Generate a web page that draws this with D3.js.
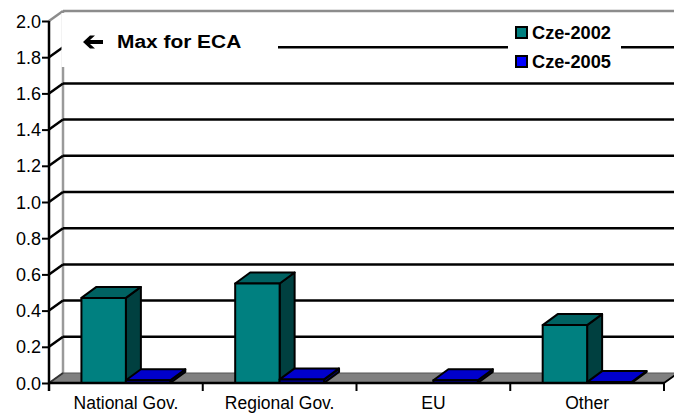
<!DOCTYPE html>
<html><head><meta charset="utf-8">
<script src="https://cdn.jsdelivr.net/npm/d3@7"></script>
<style>html,body{margin:0;padding:0;background:#fff;overflow:hidden}</style>
</head><body>
<svg id="c" width="674" height="413"></svg>
<script>
const categories = ["National Gov.", "Regional Gov.", "EU", "Other"];
const seriesNames = ["Cze-2002", "Cze-2005"];
const cze2002 = [0.47, 0.55, 0, 0.32];
const cze2005 = [0.015, 0.02, 0.015, 0.005];
const yTicks = [0, 0.2, 0.4, 0.6, 0.8, 1.0, 1.2, 1.4, 1.6, 1.8, 2.0];
const annotation = "Max for ECA";

const svg = d3.select("#c");
const font = "'Liberation Sans', Arial, sans-serif";
const L = 49, R = 664, B = 383, T = 21;
const wdx = 14, wdy = -10;   // wall depth
const bdx = 15, bdy = -11;   // bar depth
const y = d3.scaleLinear().domain([0, 2]).range([B, T]);
const x0 = d3.scaleBand().domain(categories).range([L, R]).paddingInner(0).paddingOuter(0);
const x1 = d3.scaleBand().domain(seriesNames).range([0, x0.bandwidth()]).paddingInner(0).paddingOuter(0.73);
const faces = {
  "Cze-2002": {front: "#008080", top: "#006262", side: "#004040", legend: "#008080"},
  "Cze-2005": {front: "#0000a0", top: "#0000cc", side: "#000070", legend: "#0000ff"}
};

// back wall vertical edge
svg.append("line").attr("x1", L + wdx).attr("x2", L + wdx).attr("y1", y(2) + wdy).attr("y2", B + wdy)
  .attr("stroke", "#9a9a9a").attr("stroke-width", 2.5);

// gridlines on back wall
yTicks.filter(v => v > 0).forEach(v => {
  const top = v === 2;
  svg.append("line").attr("x1", L + wdx).attr("x2", 680).attr("y1", y(v) + wdy).attr("y2", y(v) + wdy)
    .attr("stroke", top ? "#8c8c8c" : "#000").attr("stroke-width", 2.5);
  svg.append("line").attr("x1", L).attr("x2", L + wdx).attr("y1", y(v)).attr("y2", y(v) + wdy)
    .attr("stroke", top ? "#8c8c8c" : "#000").attr("stroke-width", 2.5);
});

// floor
svg.append("path")
  .attr("d", `M${L},${B} L${R},${B} L${R + wdx},${B + wdy} L${L + wdx},${B + wdy} Z`)
  .attr("fill", "#808080").attr("stroke", "#555").attr("stroke-width", 1);
svg.append("line").attr("x1", L).attr("x2", L + wdx).attr("y1", B).attr("y2", B + wdy)
  .attr("stroke", "#333").attr("stroke-width", 2);
svg.append("line").attr("x1", R).attr("x2", R + wdx).attr("y1", B).attr("y2", B + wdy)
  .attr("stroke", "#000").attr("stroke-width", 2);

// annotation box
svg.append("rect").attr("x", L + wdx - 1.5).attr("y", 13).attr("width", 278 - (L + wdx - 1.5)).attr("height", 54).attr("fill", "#fff");
svg.append("path").attr("d", "M83,42 L90,35.5 L95,35.5 L90,40 L103,40 L103,44 L90,44 L95,48.5 L90,48.5 Z")
  .attr("fill", "#000");
svg.append("text").attr("transform", "translate(117,48) scale(1.1,1)").attr("font-family", font)
  .attr("font-weight", "bold").attr("font-size", 19).attr("fill", "#000").text(annotation);

// legend
const lg = svg.append("g");
lg.append("rect").attr("x", 508).attr("y", 18).attr("width", 113).attr("height", 58).attr("fill", "#fff");
seriesNames.forEach((s, i) => {
  lg.append("rect").attr("x", 516).attr("y", 27 + i * 29).attr("width", 11).attr("height", 11)
    .attr("fill", faces[s].legend).attr("stroke", "#000").attr("stroke-width", 2);
  lg.append("text").attr("transform", `translate(532,${39 + i * 29}) scale(1.04,1)`).attr("font-family", font)
    .attr("font-weight", "bold").attr("font-size", 17.5).attr("fill", "#000").text(s);
});

// bars
const data = [cze2002, cze2005];
categories.forEach((c, ci) => {
  seriesNames.forEach((s, si) => {
    const v = data[si][ci];
    if (!v) return;
    const xl = x0(c) + x1(s), w = x1.bandwidth();
    const yt = y(v);
    const g = svg.append("g").attr("stroke", "#000").attr("stroke-width", 2).attr("stroke-linejoin", "round");
    g.append("path").attr("d", `M${xl + w},${B} L${xl + w + bdx},${B + bdy} L${xl + w + bdx},${yt + bdy} L${xl + w},${yt} Z`)
      .attr("fill", faces[s].side);
    g.append("path").attr("d", `M${xl},${yt} L${xl + bdx},${yt + bdy} L${xl + w + bdx},${yt + bdy} L${xl + w},${yt} Z`)
      .attr("fill", faces[s].top);
    g.append("rect").attr("x", xl).attr("y", yt).attr("width", w).attr("height", B - yt).attr("fill", faces[s].front);
  });
});

// y axis
const ya = svg.append("g").attr("transform", `translate(${L},0)`)
  .call(d3.axisLeft(y).tickValues(yTicks).tickSize(7).tickPadding(1).tickFormat(d3.format(".1f")));
ya.select(".domain").remove();
ya.selectAll(".tick line").attr("stroke", "#000").attr("stroke-width", 2);
ya.selectAll(".tick text").attr("font-family", font).attr("font-size", 18).attr("fill", "#000").attr("dy", "0.34em");
svg.append("line").attr("x1", L).attr("x2", L).attr("y1", y(2)).attr("y2", B + 8).attr("stroke", "#000").attr("stroke-width", 2.5);

// x axis
svg.append("line").attr("x1", L).attr("x2", R).attr("y1", B).attr("y2", B).attr("stroke", "#000").attr("stroke-width", 2.5);
const bounds = categories.map(c => x0(c)).concat([x0.range()[1]]);
bounds.forEach(bx => svg.append("line").attr("x1", bx).attr("x2", bx).attr("y1", B).attr("y2", B + 8)
  .attr("stroke", "#000").attr("stroke-width", 2));
const xa = svg.append("g").attr("transform", `translate(0,${B})`)
  .call(d3.axisBottom(x0).tickSize(0).tickPadding(0));
xa.select(".domain").remove();
xa.selectAll(".tick text").attr("font-family", font).attr("font-size", 17.5).attr("fill", "#000")
  .attr("dy", null).attr("y", 25.5);
</script>
</body></html>
